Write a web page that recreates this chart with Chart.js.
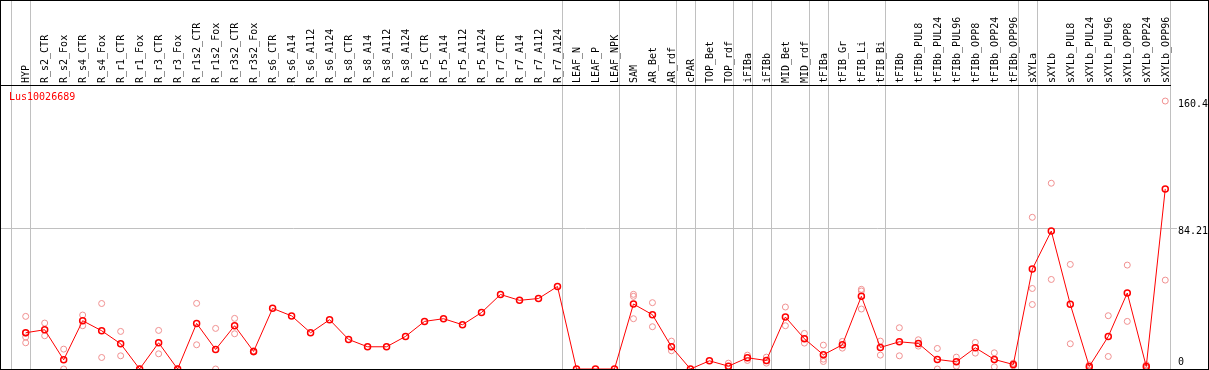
<!DOCTYPE html>
<html>
<head>
<meta charset="utf-8">
<script src="https://cdn.jsdelivr.net/npm/chart.js@4/dist/chart.umd.min.js"></script>
<style>
  html, body { margin: 0; padding: 0; background: #fff; }
  #wrap { position: relative; width: 1209px; height: 370px; box-sizing: border-box; border: 1px solid #000; }
  #title { position: absolute; left: 8px; top: 90px; font: 10px "DejaVu Sans Mono", monospace; line-height: 12px; color: #f00; }
  canvas { display: block; }
</style>
</head>
<body>
<div id="wrap">
  <canvas id="chart" width="1207" height="368"></canvas>
  <div id="title">Lus10026689</div>
</div>
<script>
// Категории (образцы)
const categories = [
  'HYP', 'R_s2_CTR', 'R_s2_Fox', 'R_s4_CTR', 'R_s4_Fox', 'R_r1_CTR', 'R_r1_Fox', 'R_r3_CTR', 'R_r3_Fox',
  'R_r1s2_CTR', 'R_r1s2_Fox', 'R_r3s2_CTR', 'R_r3s2_Fox', 'R_s6_CTR', 'R_s6_A14', 'R_s6_A112', 'R_s6_A124',
  'R_s8_CTR', 'R_s8_A14', 'R_s8_A112', 'R_s8_A124', 'R_r5_CTR', 'R_r5_A14', 'R_r5_A112', 'R_r5_A124',
  'R_r7_CTR', 'R_r7_A14', 'R_r7_A112', 'R_r7_A124', 'LEAF_N', 'LEAF_P', 'LEAF_NPK', 'SAM', 'AR_Bet', 'AR_rdf',
  'cPAR', 'TOP_Bet', 'TOP_rdf', 'iFIBa', 'iFIBb', 'MID_Bet', 'MID_rdf', 'tFIBa', 'tFIB_Gr', 'tFIB_Li', 'tFIB_Bi',
  'tFIBb', 'tFIBb_PUL8', 'tFIBb_PUL24', 'tFIBb_PUL96', 'tFIBb_OPP8', 'tFIBb_OPP24', 'tFIBb_OPP96',
  'sXYLa', 'sXYLb', 'sXYLb_PUL8', 'sXYLb_PUL24', 'sXYLb_PUL96', 'sXYLb_OPP8', 'sXYLb_OPP24', 'sXYLb_OPP96'
];

// Средние значения
const means = [
  21.7, 23.5, 5.5, 28.9, 22.9, 15.1, 0, 15.7, 0,
  27.3, 11.7, 25.9, 10.5, 36.3, 31.8, 21.7, 29.5,
  17.7, 13.3, 13.3, 19.5, 28.5, 30.1, 26.5, 33.8,
  44.6, 41.1, 42.2, 49.4, 0, 0, 0, 38.9, 32.5, 13.3,
  0, 4.9, 1.7, 6.7, 5.1, 31.1, 18.1, 8.5, 14.5, 43.5, 12.9,
  16.3, 15.3, 5.7, 4.3, 12.7, 5.7, 2.7,
  59.8, 82.6, 38.7, 1.5, 19.5, 45.5, 1.5, 107.8
];

// Повторности (по категориям)
const replicates = [
  [31.5, 21.5, 19.1, 15.7], [27.5, 19.9], [11.9, 0], [32.3, 25.9], [39.2, 6.9], [22.5, 7.9], [0, 0], [23.1, 9.1], [0, 0],
  [39.3, 14.5], [24.3, 0], [30.3, 21.1], [10.9, 10.1], [], [], [], [],
  [], [], [], [], [], [], [], [],
  [], [], [], [], [], [], [], [44.7, 43.5, 30.1], [39.7, 25.3], [16.7, 10.9],
  [], [], [3.5, 0], [8.3, 5.1], [7.1, 3.5], [37.1, 25.9], [21.3, 15.5], [14.3, 5.9, 4.5], [16.5, 12.5], [47.7, 46.7, 35.9], [16.7, 8.3],
  [24.7, 7.9], [17.5, 13.7], [12.3, 0], [7.1, 1.7], [15.9, 9.5], [9.7, 1.3], [3.5, 1.9],
  [90.8, 48.2, 38.6], [111.2, 53.6], [62.6, 15.1], [2.5, 0.5], [31.9, 7.5], [62.2, 28.5], [2.5, 0.5], [160.4, 53.2]
];

// Последние индексы групп (после них серая линия)
const groupEnds = [-1, 0, 28, 31, 34, 35, 37, 38, 39, 41, 42, 45, 52, 53, 60];

// Подписи правой оси
const yTicks = [0, 84.21, 160.4];

const sepValues = groupEnds.map(i => i + 0.25);
const isSep = v => sepValues.includes(v);
const monoFont = { family: 'DejaVu Sans Mono', size: 10, lineHeight: 1 };
const gridGray = '#c0c0c0';
const none = 'rgba(0,0,0,0)';

const meanPoints = means.map((v, i) => ({ x: i, y: v }));
const repPoints = [];
replicates.forEach((list, i) => list.forEach(v => repPoints.push({ x: i, y: v })));

const ctx = document.getElementById('chart').getContext('2d');
new Chart(ctx, {
  type: 'line',
  data: {
    datasets: [
      {
        label: 'mean',
        data: meanPoints,
        borderColor: '#ff0000',
        borderWidth: 1,
        pointRadius: 3,
        pointBorderWidth: 1.5,
        pointBorderColor: '#ff0000',
        pointBackgroundColor: none,
        tension: 0,
        order: 1
      },
      {
        type: 'scatter',
        label: 'replicates',
        data: repPoints,
        showLine: false,
        pointRadius: 3,
        pointBorderWidth: 1,
        pointBorderColor: '#f09090',
        pointBackgroundColor: none,
        order: 2
      }
    ]
  },
  options: {
    responsive: false,
    animation: false,
    layout: { padding: 0, autoPadding: false },
    plugins: { legend: { display: false }, tooltip: { enabled: false } },
    scales: {
      x: {
        type: 'linear',
        position: 'top',
        min: -1.3,
        max: 60.25,
        afterBuildTicks: s => {
          const vals = categories.map((c, i) => i).concat(sepValues).sort((a, b) => a - b);
          s.ticks = vals.map(v => ({ value: v }));
        },
        afterFit: s => { s.height = 84; s.paddingLeft = 0; s.paddingRight = 0; },
        ticks: {
          autoSkip: false,
          minRotation: 90,
          maxRotation: 90,
          padding: -82,
          labelOffset: 11,
          font: monoFont,
          color: '#000',
          callback: v => Number.isInteger(v) ? categories[v] : ''
        },
        grid: {
          color: c => c.tick && isSep(c.tick.value) ? gridGray : none,
          tickColor: c => c.tick && isSep(c.tick.value) ? gridGray : none,
          tickLength: 84,
          lineWidth: 1,
          drawOnChartArea: true,
          drawTicks: true
        },
        border: { display: true, color: '#000', width: 1 }
      },
      y: {
        type: 'linear',
        position: 'right',
        min: 0,
        max: 170,
        afterBuildTicks: s => { s.ticks = yTicks.map(v => ({ value: v })); },
        afterFit: s => { s.width = 38; s.paddingTop = 0; s.paddingBottom = 0; },
        ticks: {
          padding: 1,
          font: { family: 'DejaVu Sans Mono', size: 10, lineHeight: 0.7 },
          color: '#000',
          callback: v => v === 0 ? ['0', '', ''] : ['', String(v)]
        },
        grid: {
          color: c => c.tick && c.tick.value === 84.21 ? gridGray : none,
          tickColor: c => c.tick && c.tick.value === 84.21 ? gridGray : none,
          tickLength: 7,
          drawTicks: true
        },
        border: { display: false }
      }
    }
  }
});
</script>
</body>
</html>
